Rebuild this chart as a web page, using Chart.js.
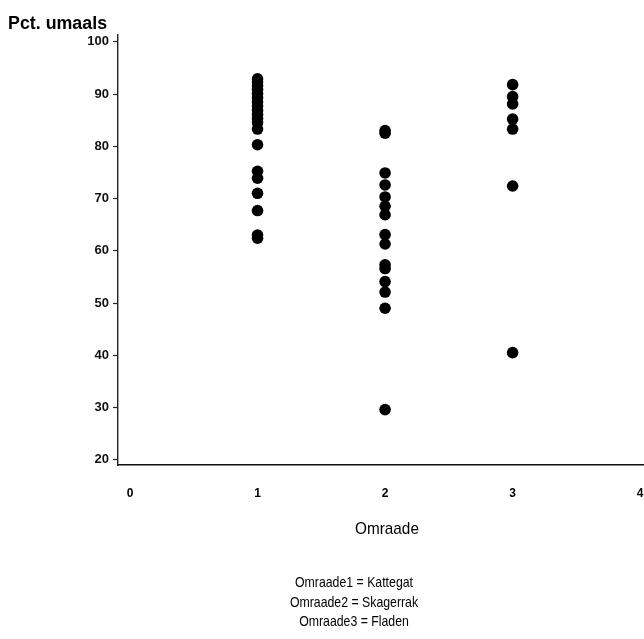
<!DOCTYPE html>
<html>
<head>
<meta charset="utf-8">
<title>Pct. umaals</title>
<script src="https://cdn.jsdelivr.net/npm/chart.js@4.4.1/dist/chart.umd.min.js"></script>
<style>
    html, body { margin: 0; padding: 0; background: #ffffff; overflow: hidden; }
    #wrap { position: relative; width: 644px; height: 639px; }
</style>
</head>
<body>
<div id="wrap"><canvas id="scatter-chart" width="644" height="639"></canvas></div>
<script>
// Omraade codes and the measured percentages per area
const areaTicks = [0, 1, 2, 3, 4];
const kattegat = [92.9, 92.3, 91.6, 90.9, 90.1, 89.3, 88.5, 87.7, 86.9, 86.1, 85.3, 84.5, 83.3,
                  80.3, 75.2, 73.9, 71.0, 67.7, 63.0, 62.4];
const skagerrak = [83.0, 82.5, 74.9, 72.6, 70.3, 68.5, 66.9, 63.1, 61.3, 57.3, 56.6, 54.1, 52.1, 49.0, 29.6];
const fladen = [91.8, 89.5, 88.1, 85.2, 83.3, 72.4, 40.5];
const legendLines = ['Omraade1 = Kattegat', 'Omraade2 = Skagerrak', 'Omraade3 = Fladen'];

const toPoints = (area, values) => values.map(v => ({ x: area, y: v }));

const points = [
    ...toPoints(1, kattegat),
    ...toPoints(2, skagerrak),
    ...toPoints(3, fladen)
];

const FONT = '"Liberation Sans", Arial, Helvetica, sans-serif';

// narrow text: squeeze horizontally around the anchor point
function narrowText(ctx, text, x, y, squeeze) {
    ctx.save();
    ctx.translate(x, y);
    ctx.scale(squeeze, 1);
    ctx.fillText(text, 0, 0);
    ctx.restore();
}

// titles, x tick numbers and the area key are drawn by hand
const textPlugin = {
    id: 'textPlugin',
    afterDraw(chart) {
        const ctx = chart.ctx;
        const xScale = chart.scales.x;
        ctx.save();
        ctx.fillStyle = '#000';

        ctx.font = 'bold 18px ' + FONT;
        ctx.textAlign = 'left';
        ctx.textBaseline = 'middle';
        narrowText(ctx, 'Pct. umaals', 8, 24, 0.99);

        ctx.font = 'bold 12px ' + FONT;
        ctx.textAlign = 'center';
        areaTicks.forEach(t => {
            ctx.fillText(String(t), xScale.getPixelForValue(t), 494);
        });

        ctx.font = '17px ' + FONT;
        narrowText(ctx, 'Omraade', 387, 529, 0.9);

        ctx.font = '15px ' + FONT;
        legendLines.forEach((line, i) => {
            narrowText(ctx, line, 354, 583 + i * 19.5, 0.82);
        });
        ctx.restore();
    }
};

const ctx = document.getElementById('scatter-chart').getContext('2d');

new Chart(ctx, {
    type: 'scatter',
    data: {
        datasets: [{
            data: points,
            backgroundColor: '#000',
            borderWidth: 0,
            pointRadius: 5.8,
            pointHoverRadius: 5.8
        }]
    },
    options: {
        responsive: false,
        animation: false,
        layout: { autoPadding: false, padding: { top: 35, right: 0, bottom: 0, left: 0 } },
        plugins: {
            legend: { display: false },
            tooltip: { enabled: false }
        },
        scales: {
            x: {
                type: 'linear',
                min: -0.094,
                max: 4.03,
                afterFit: s => { s.height = 174; },
                ticks: { display: false },
                grid: { display: false },
                border: { display: true, color: '#111', width: 1.6 }
            },
            y: {
                type: 'linear',
                min: 19,
                max: 101.3,
                afterFit: s => { s.width = 118; },
                ticks: {
                    stepSize: 10,
                    includeBounds: false,
                    padding: 4,
                    color: '#111',
                    font: { family: FONT, size: 13, weight: 'bold' }
                },
                grid: {
                    display: true,
                    drawOnChartArea: false,
                    drawTicks: true,
                    tickLength: 5,
                    tickColor: '#222',
                    tickWidth: 1.2
                },
                border: { display: true, color: '#222', width: 1.4, dash: [1.5, 3.5] }
            }
        }
    },
    plugins: [textPlugin]
});
</script>
</body>
</html>
